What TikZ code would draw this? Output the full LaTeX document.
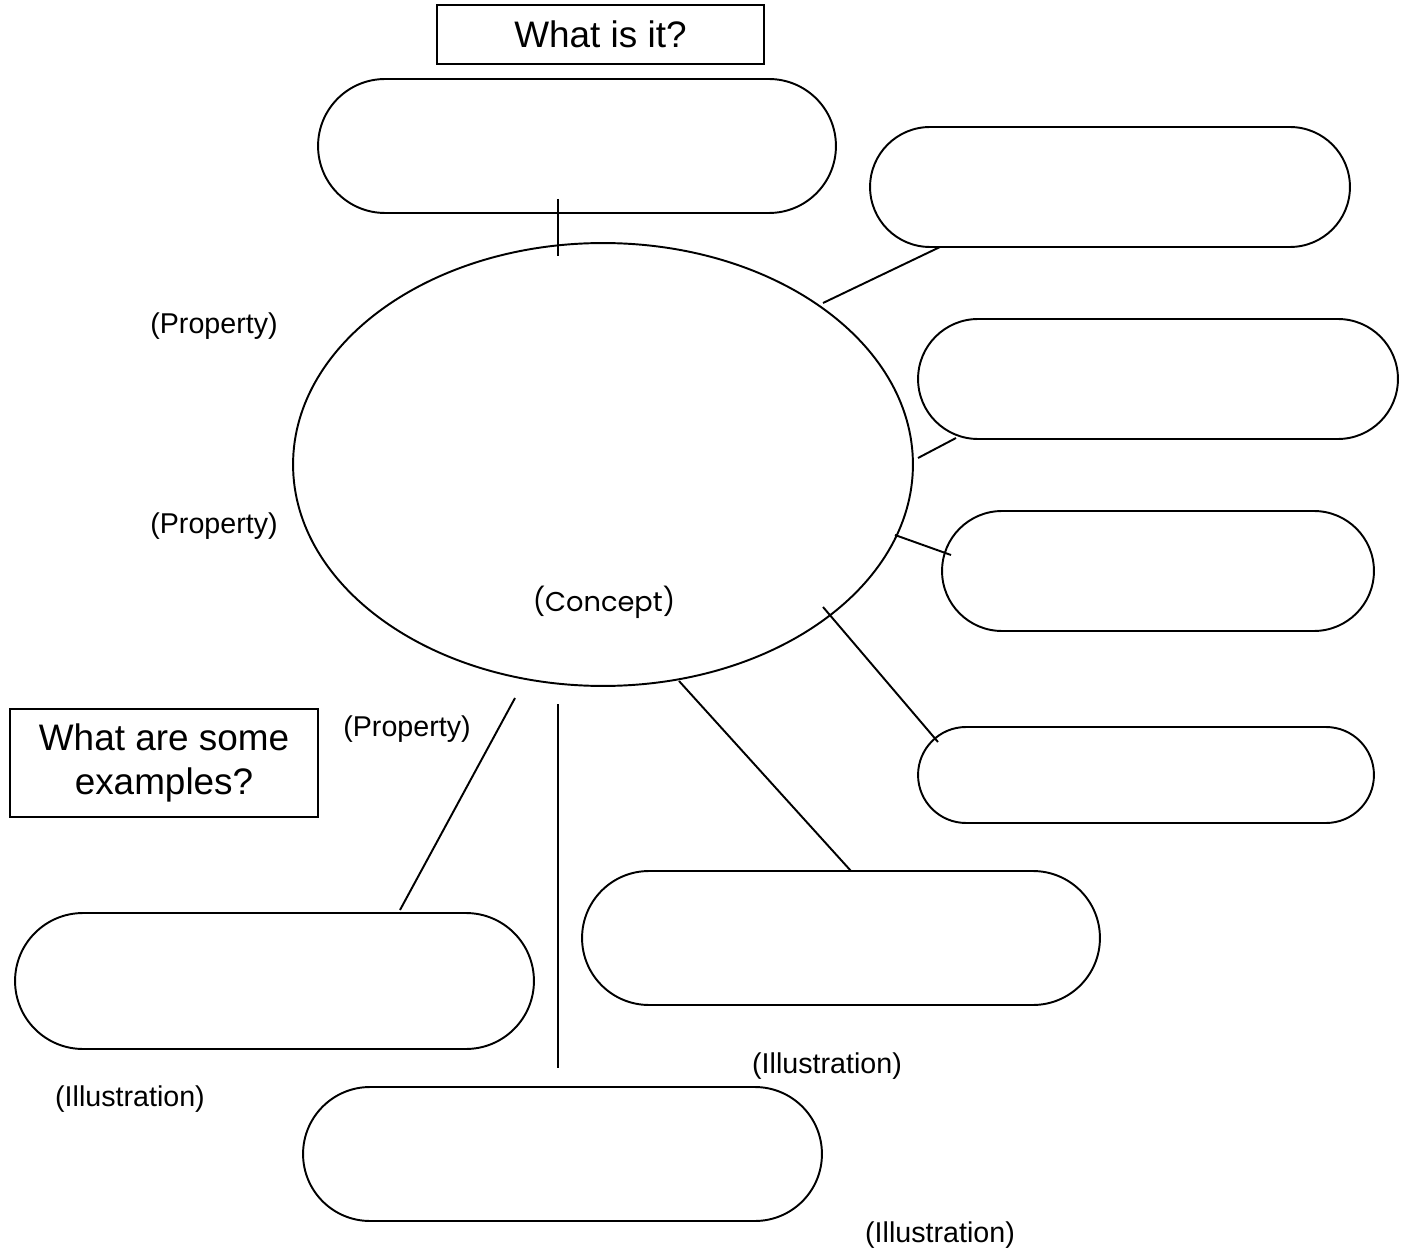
\documentclass[tikz,border=0pt]{standalone}
\usepackage{fontspec}
\setmainfont{Liberation Sans}
\newfontfamily\conceptfont{Poppins}
\usetikzlibrary{shapes.geometric}
\begin{document}
\begin{tikzpicture}[x=0.02cm,y=-0.02cm,line width=1.1pt,
  pill/.style={draw,rounded corners=#1,inner sep=0pt},
  qbox/.style={draw,inner sep=0pt,font=\fontsize{21}{25.5}\selectfont,align=center},
  note/.style={font=\fontsize{16.3}{19}\selectfont,inner sep=0pt},
  link/.style={line width=1.1pt}]
\useasboundingbox (0,0) rectangle (1410,1253);

% question boxes
\node[qbox,minimum width=6.54cm,minimum height=1.18cm] (q1) at (600.5,34.5) {What is it?};
\node[qbox,minimum width=6.16cm,minimum height=2.16cm] (q2) at (164,763) {What are some\\examples?};

% central concept
\node[draw,ellipse,minimum width=12.4cm,minimum height=8.86cm,inner sep=0pt] (concept) at (603,464.5) {};
\node[inner sep=0pt,font=\conceptfont\fontsize{15.5}{18}\selectfont] (clabel) at (604,602) {(Concept)};

% definition and property pills
\node[pill=1.34cm,minimum width=10.36cm,minimum height=2.68cm] (def) at (577,146) {};
\node[pill=1.2cm,minimum width=9.6cm,minimum height=2.4cm] (p1) at (1110,187) {};
\node[pill=1.2cm,minimum width=9.6cm,minimum height=2.4cm] (p2) at (1158,379) {};
\node[pill=1.2cm,minimum width=8.64cm,minimum height=2.4cm] (p3) at (1158,571) {};
\node[pill=0.96cm,minimum width=9.12cm,minimum height=1.92cm] (p4) at (1146,775) {};

% example pills
\node[pill=1.34cm,minimum width=10.36cm,minimum height=2.68cm] (e1) at (841,938) {};
\node[pill=1.36cm,minimum width=10.38cm,minimum height=2.72cm] (e2) at (274.5,981) {};
\node[pill=1.34cm,minimum width=10.38cm,minimum height=2.68cm] (e3) at (562.5,1154) {};

% connector end points
\coordinate (a1) at (558,199);  \coordinate (a2) at (558,256);
\coordinate (b1) at (823,303);  \coordinate (b2) at (940,247);
\coordinate (c1) at (918,458);  \coordinate (c2) at (956,438);
\coordinate (d1) at (895,535);  \coordinate (d2) at (951,555);
\coordinate (f1) at (823,607);  \coordinate (f2) at (938,742);
\coordinate (g1) at (679,681);  \coordinate (g2) at (851,871);
\coordinate (h1) at (515,698);  \coordinate (h2) at (400,910);
\coordinate (k1) at (558,704);  \coordinate (k2) at (558,1068);

\draw[link] (a1) -- (a2);
\draw[link] (b1) -- (b2);
\draw[link] (c1) -- (c2);
\draw[link] (d1) -- (d2);
\draw[link] (f1) -- (f2);
\draw[link] (g1) -- (g2);
\draw[link] (h1) -- (h2);
\draw[link] (k1) -- (k2);

% labels
\node[note] (l1) at (214,326) {(Property)};
\node[note] (l2) at (214,526) {(Property)};
\node[note] (l3) at (407,729) {(Property)};
\node[note] (l4) at (827,1066) {(Illustration)};
\node[note] (l5) at (130,1099) {(Illustration)};
\node[note] (l6) at (940,1235) {(Illustration)};
\end{tikzpicture}
\end{document}
